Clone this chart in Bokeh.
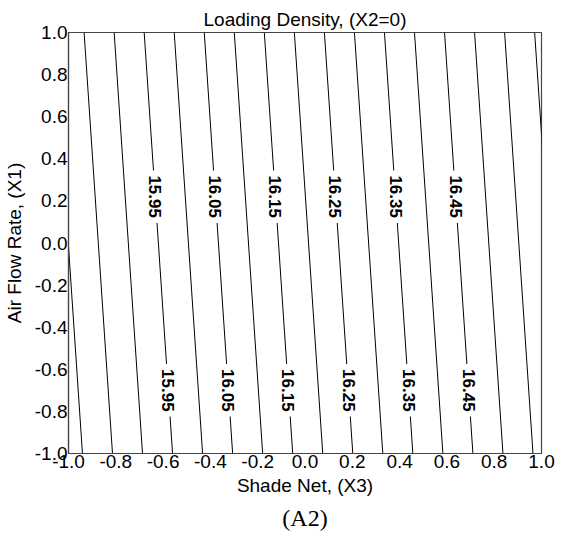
import numpy as np
from bokeh.plotting import figure
from bokeh.models import FixedTicker, PrintfTickFormatter, Title, Range1d, AllLabels
from bokeh.core.properties import value
from bokeh.embed import file_html
from bokeh.resources import INLINE

# contour levels of Loading Density (X2 = 0)
levels = [15.80, 15.85, 15.90, 15.95, 16.00, 16.05, 16.10, 16.15, 16.20,
          16.25, 16.30, 16.35, 16.40, 16.45, 16.50, 16.55, 16.60]
# X3 position where each contour meets X1 = 1 (top) and X1 = -1 (bottom)
x3_at_top = [-1.061, -0.934, -0.807, -0.680, -0.553, -0.426, -0.299, -0.172, -0.045,
             0.082, 0.209, 0.336, 0.463, 0.590, 0.717, 0.844, 0.971]
x3_at_bottom = [-0.941, -0.814, -0.687, -0.560, -0.433, -0.306, -0.179, -0.052, 0.075,
                0.202, 0.329, 0.456, 0.583, 0.710, 0.837, 0.964, 1.091]
# labelled contours
label_levels = [15.95, 16.05, 16.15, 16.25, 16.35, 16.45]
# axis ticks
tick_values = [-1.0, -0.8, -0.6, -0.4, -0.2, 0.0, 0.2, 0.4, 0.6, 0.8, 1.0]

title_text = "Loading Density, (X2=0)"
x_label = "Shade Net, (X3)"
y_label = "Air Flow Rate, (X1)"
panel_tag = "(A2)"

FONT = "Liberation Sans"
label_rows = [0.22, -0.70]   # X1 where the contour labels sit

p = figure(width=555, height=536, output_backend="svg", toolbar_location=None,
           x_range=Range1d(-1, 1), y_range=Range1d(-1, 1),
           min_border_left=68, min_border_right=14, min_border_top=32, min_border_bottom=83)
p.background_fill_color = "white"
p.border_fill_color = "white"
p.outline_line_color = "#444444"
p.outline_line_width = 1.2
p.xgrid.visible = False
p.ygrid.visible = False

# contour lines
p.segment(x0=x3_at_top, y0=[1.0] * len(levels), x1=x3_at_bottom, y1=[-1.0] * len(levels),
          line_color="black", line_width=1)

# contour labels
lx, ly, lt = [], [], []
for lev in label_levels:
    i = levels.index(lev)
    for yr in label_rows:
        t = (1.0 - yr) / 2.0
        lx.append(x3_at_top[i] + (x3_at_bottom[i] - x3_at_top[i]) * t)
        ly.append(yr)
        lt.append(f"{lev:.2f}")
p.text(x=lx, y=ly, text=lt, angle=-np.pi / 2, text_align="center", text_baseline="middle",
       text_font=value(FONT), text_font_style="bold", text_font_size="17px",
       text_color="black", background_fill_color="white", padding=5)

for ax in (p.xaxis[0], p.yaxis[0]):
    ax.ticker = FixedTicker(ticks=tick_values, minor_ticks=[])
    ax.formatter = PrintfTickFormatter(format="%.1f")
    ax.major_label_policy = AllLabels()
    ax.major_tick_line_color = None
    ax.minor_tick_line_color = None
    ax.major_tick_in = 0
    ax.major_tick_out = 0
    ax.major_label_standoff = 1
    ax.major_label_text_font = FONT
    ax.major_label_text_font_size = "19px"
    ax.major_label_text_color = "black"
    ax.axis_line_color = "#444444"
    ax.axis_line_width = 1.2
    ax.axis_label_text_font = FONT
    ax.axis_label_text_font_size = "19px"
    ax.axis_label_text_font_style = "normal"
    ax.axis_label_text_color = "black"

p.xaxis.axis_label = x_label
p.yaxis.axis_label = y_label
p.xaxis.axis_label_standoff = 4
p.yaxis.axis_label_standoff = 7

p.title.text = title_text
p.title.align = "center"
p.title.standoff = 6
p.title.text_font = FONT
p.title.text_font_size = "19px"
p.title.text_font_style = "normal"
p.title.text_color = "black"

# panel caption below the chart
p.add_layout(Title(text=panel_tag, align="center", text_font="Liberation Serif",
                   text_font_size="24px", text_font_style="normal", text_color="black",
                   standoff=8), "below")

open("out.html", "w").write(file_html(p, INLINE))
